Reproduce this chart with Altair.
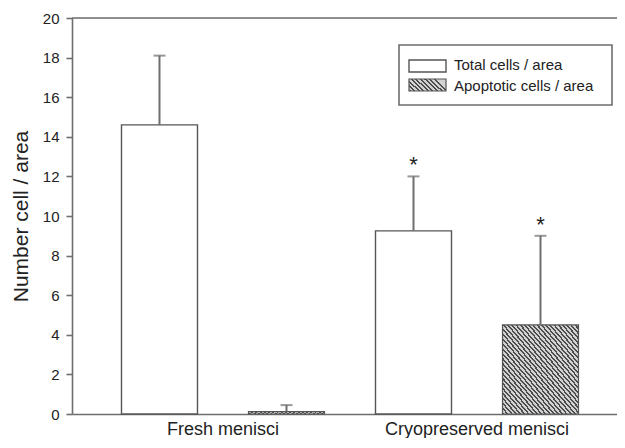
import altair as alt
import pandas as pd

# ---- data ----
groups = ["Fresh menisci", "Cryopreserved menisci"]
series = ["Total cells / area", "Apoptotic cells / area"]
group_col = ["Fresh menisci", "Fresh menisci", "Cryopreserved menisci", "Cryopreserved menisci"]
series_col = ["Total cells / area", "Apoptotic cells / area", "Total cells / area", "Apoptotic cells / area"]
means = [14.6, 0.12, 9.25, 4.5]
errors = [3.5, 0.33, 2.75, 4.5]
marks = ["", "", "*", "*"]
y_ticks = [0, 2, 4, 6, 8, 10, 12, 14, 16, 18, 20]

df = pd.DataFrame({
    "group": group_col,
    "series": series_col,
    "mean": means,
    "err": errors,
    "sig": marks,
})
df["upper"] = df["mean"] + df["err"]

FONT = "Liberation Sans"
AX = "#6e6e6e"
EDGE = "#555555"
DARK = "#4d4d4d"
LIGHT = "#d2d2d2"


def hatch(n, x1, y1, x2, y2, frac=0.45):
    stops = []
    for k in range(n):
        a = k / n
        b = (k + frac) / n
        c = (k + 1) / n
        stops += [
            {"offset": a, "color": DARK},
            {"offset": b, "color": DARK},
            {"offset": b, "color": LIGHT},
            {"offset": c, "color": LIGHT},
        ]
    return {"gradient": "linear", "x1": x1, "y1": y1, "x2": x2, "y2": y2, "stops": stops}


bar_hatch = hatch(36, 0, 1, 1, 0)
legend_hatch = hatch(9, 0, 1, 1, 0.66)

x_axis = alt.Axis(title=None, labelAngle=0, ticks=False, labelFontSize=18, labelPadding=6,
                  labelLimit=400, labelColor="#222", labelFont=FONT,
                  domainColor=AX, domainWidth=1.6)
x_enc = alt.X(
    "group:N",
    sort=groups,
    scale=alt.Scale(domain=groups, paddingInner=0, paddingOuter=0.0728, align=0.6486),
    axis=x_axis,
)
xo_enc = alt.XOffset(
    "series:N",
    sort=series,
    scale=alt.Scale(domain=series, paddingInner=0.4016, paddingOuter=0.2008),
)
y_scale = alt.Scale(domain=[0, 20], nice=False, zero=True)
y_axis = alt.Axis(title="Number cell / area", values=y_ticks, tickCount=11, labelOverlap=False,
                  tickSize=6, tickColor=AX, tickWidth=1.6, labelPadding=7,
                  labelFontSize=15, labelColor="#222", labelFont=FONT,
                  titleFontSize=21, titleFont=FONT, titleFontWeight="normal",
                  titleColor="#222", titlePadding=11, grid=False,
                  domainColor=AX, domainWidth=1.6)

base = alt.Chart(df)

bars_total = base.transform_filter(alt.datum.series == series[0]).mark_bar(
    fill="white", stroke=EDGE, strokeWidth=1.4
).encode(
    x=x_enc, xOffset=xo_enc,
    y=alt.Y("mean:Q", scale=y_scale, axis=y_axis),
)

bars_apo = base.transform_filter(alt.datum.series == series[1]).mark_bar(
    fill=bar_hatch, stroke=EDGE, strokeWidth=1.2
).encode(x=x_enc, xOffset=xo_enc, y=alt.Y("mean:Q", scale=y_scale, axis=y_axis))

whisker = base.mark_rule(color=AX, strokeWidth=2).encode(
    x=x_enc, xOffset=xo_enc,
    y=alt.Y("mean:Q", scale=y_scale, axis=y_axis), y2="upper:Q",
)
cap = base.mark_tick(color=AX, size=12, thickness=2).encode(
    x=x_enc, xOffset=xo_enc, y=alt.Y("upper:Q", scale=y_scale, axis=y_axis),
)
stars = base.mark_text(fontSize=22, font=FONT, color="#222", baseline="middle", dy=-11).encode(
    x=x_enc, xOffset=xo_enc, y=alt.Y("upper:Q", scale=y_scale, axis=y_axis), text="sig:N",
)

top_line = alt.Chart(pd.DataFrame({"top": [20]})).mark_rule(color=AX, strokeWidth=1.6).encode(
    y=alt.Y("top:Q", scale=y_scale, axis=y_axis)
)

# ---- hand-made legend (positions in pixels of the plot area) ----
leg_df = pd.DataFrame({"series": series})
leg_box = alt.Chart(leg_df.head(1)).mark_rect(fill="white", stroke=AX, strokeWidth=1.6).encode(
    x=alt.value(327), x2=alt.value(540), y=alt.value(27), y2=alt.value(87)
)
leg_sw1 = alt.Chart(leg_df.head(1)).mark_rect(fill="white", stroke=EDGE, strokeWidth=1.4).encode(
    x=alt.value(337), x2=alt.value(374), y=alt.value(42), y2=alt.value(54)
)
leg_sw2 = alt.Chart(leg_df.head(1)).mark_rect(fill=legend_hatch, stroke=EDGE, strokeWidth=1.2).encode(
    x=alt.value(337), x2=alt.value(374), y=alt.value(61), y2=alt.value(73)
)
leg_t1 = alt.Chart(leg_df.iloc[[0]]).mark_text(
    fontSize=15, font=FONT, color="#222", align="left", baseline="middle"
).encode(x=alt.value(382), y=alt.value(47), text="series:N")
leg_t2 = alt.Chart(leg_df.iloc[[1]]).mark_text(
    fontSize=15, font=FONT, color="#222", align="left", baseline="middle"
).encode(x=alt.value(382), y=alt.value(68), text="series:N")

chart = alt.layer(
    bars_total, bars_apo, whisker, cap, stars, top_line,
    leg_box, leg_sw1, leg_sw2, leg_t1, leg_t2,
).properties(
    width=545, height=396,
    autosize=alt.AutoSizeParams(type="none"),
    padding={"left": 64, "top": 10, "right": 0, "bottom": 24},
).configure_view(stroke=None).configure(background="white")

chart.save("out.html", embed_options={"renderer": "svg", "actions": False})
